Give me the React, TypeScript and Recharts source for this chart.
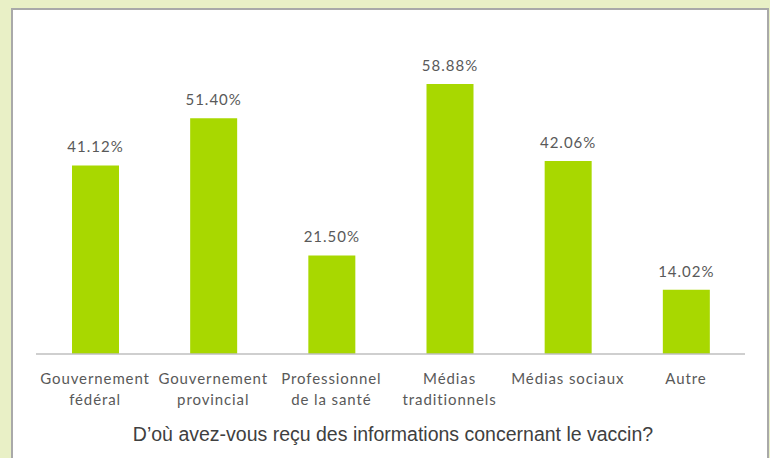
import { BarChart, Bar, XAxis, YAxis, LabelList } from 'recharts';

const categories = [
  'Gouvernement\nfédéral',
  'Gouvernement\nprovincial',
  'Professionnel\nde la santé',
  'Médias\ntraditionnels',
  'Médias sociaux',
  'Autre',
];
const shares = [41.12, 51.4, 21.5, 58.88, 42.06, 14.02];
const chartTitle = "D’où avez-vous reçu des informations concernant le vaccin?";

const data = categories.map((name, i) => ({ name, value: shares[i] }));

function CategoryTick(props: any) {
  const { x, y, payload } = props;
  const lines = String(payload.value).split('\n');
  return (
    <g>
      {lines.map((line: string, i: number) => (
        <text
          key={i}
          x={x}
          y={y + 22 + i * 21}
          textAnchor="middle"
          fill="#595959"
          fontSize={15}
          letterSpacing={0.9}
          fontFamily="Lato, sans-serif"
        >
          {line}
        </text>
      ))}
    </g>
  );
}

export default function App() {
  return (
    <div style={{ position: 'absolute', left: 0, top: 0, width: 770, height: 458, background: '#e9f0c6', overflow: 'hidden' }}>
      <div style={{ position: 'absolute', left: 11, top: 8, width: 754, height: 470, background: '#fff', border: '2px solid #a9a9a9' }} />
      <div style={{ position: 'absolute', left: 0, top: 0 }}>
        <BarChart width={770} height={458} data={data} margin={{ top: 33, right: 25, left: 36, bottom: 44 }}>
          <XAxis
            dataKey="name"
            interval={0}
            tickLine={false}
            axisLine={{ stroke: '#bfbfbf', strokeWidth: 1.5 }}
            tick={<CategoryTick />}
            height={60}
          />
          <YAxis hide domain={[0, 70]} />
          <Bar dataKey="value" fill="#a8d800" barSize={47} isAnimationActive={false}>
            <LabelList
              dataKey="value"
              position="top"
              offset={13}
              formatter={(v: any) => `${Number(v).toFixed(2)}%`}
              fill="#595959"
              fontSize={15}
              letterSpacing={1}
              fontFamily="Lato, sans-serif"
            />
          </Bar>
        </BarChart>
      </div>
      <div
        style={{
          position: 'absolute',
          left: 0,
          width: 786,
          top: 423,
          textAlign: 'center',
          fontFamily: '"Liberation Sans", Arial, sans-serif',
          fontSize: 19.5,
          color: '#404040',
        }}
      >
        {chartTitle}
      </div>
    </div>
  );
}
